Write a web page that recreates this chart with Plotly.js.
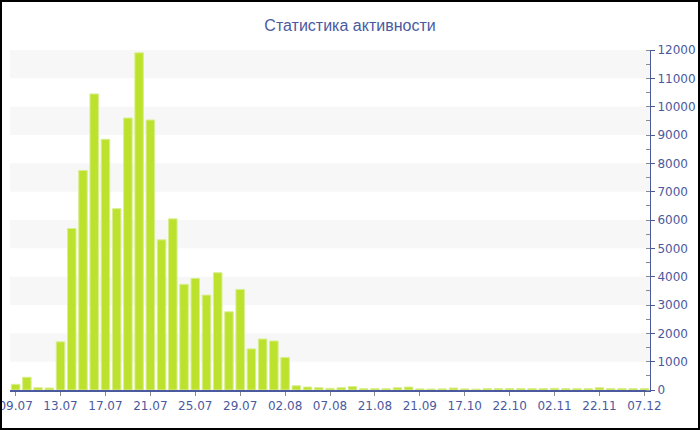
<!DOCTYPE html>
<html>
<head>
<meta charset="utf-8">
<script src="https://cdn.plot.ly/plotly-3.0.1.min.js"></script>
<style>
html,body{margin:0;padding:0;background:#fff;}
#wrap{position:relative;width:700px;height:430px;}
#chart{position:absolute;left:0;top:0;width:700px;height:430px;}
#frame{position:absolute;left:0;top:0;width:700px;height:430px;box-sizing:border-box;border:2px solid #000;pointer-events:none;}
</style>
</head>
<body>
<div id="wrap"><div id="chart"></div><div id="frame"></div></div>
<script>
const titleText = "Статистика активности";
const dates = [
  "09.07","10.07","11.07","12.07","13.07","14.07","15.07","16.07",
  "17.07","18.07","19.07","20.07","21.07","22.07","23.07","24.07",
  "25.07","26.07","27.07","28.07","29.07","30.07","31.07","01.08",
  "02.08","03.08","04.08","06.08","07.08","09.08","12.08","16.08",
  "21.08","28.08","05.09","14.09","21.09","29.09","06.10","12.10",
  "17.10","18.10","19.10","21.10","22.10","25.10","28.10","31.10",
  "02.11","07.11","12.11","17.11","22.11","26.11","30.11","04.12",
  "07.12"
];
const activity = [
  200, 450, 80, 70, 1700, 5700, 7750, 10450,
  8850, 6400, 9600, 11900, 9530, 5300, 6040, 3730,
  3940, 3350, 4140, 2760, 3550, 1450, 1800, 1730,
  1150, 150, 105, 80, 60, 80, 120, 50,
  50, 45, 80, 105, 40, 35, 40, 70,
  40, 30, 50, 50, 50, 50, 50, 50,
  60, 50, 50, 50, 80, 50, 50, 50,
  50
];
const tickLabels = ["09.07","13.07","17.07","21.07","25.07","29.07","02.08","07.08","21.08","21.09","17.10","22.10","02.11","22.11","07.12"];

const textColor = "#4b5a9e";
const bands = [];
for (let y = 1000; y < 12000; y += 2000) {
  bands.push({type:"rect", xref:"paper", yref:"y", x0:0, x1:1, y0:y, y1:y+1000,
    fillcolor:"#f7f7f7", line:{width:0}, layer:"below"});
}

const trace = {
  type:"bar",
  x: dates,
  y: activity,
  marker:{color:"#bde22e", line:{color:"#d9ee90", width:1}},
  width:0.76,
  hoverinfo:"x+y"
};

const layout = {
  width:700, height:430,
  margin:{l:10, r:50, t:50, b:40},
  paper_bgcolor:"#fff", plot_bgcolor:"#fff",
  showlegend:false,
  title:{text:titleText, x:0.5, xanchor:"center", y:0.942, yanchor:"middle",
    font:{family:"Liberation Sans, Arial, sans-serif", size:16, color:textColor}},
  font:{family:"DejaVu Sans, Verdana, sans-serif", size:12, color:textColor},
  xaxis:{
    type:"category", categoryorder:"array", categoryarray:dates,
    range:[-0.5, dates.length-0.5],
    tickmode:"array", tickvals:tickLabels, ticktext:tickLabels,
    ticks:"outside", ticklen:4, tickcolor:"#8a8a8a",
    showline:true, linecolor:"#4b5a9e", linewidth:1.5,
    showgrid:false, zeroline:false,
    tickfont:{family:"DejaVu Sans, Verdana, sans-serif", size:12, color:textColor}
  },
  yaxis:{
    side:"right", range:[0,12000], dtick:1000, tick0:0, tickformat:"d",
    ticks:"outside", ticklen:4, tickcolor:"#4b5a9e",
    showline:true, linecolor:"#4b5a9e", linewidth:1,
    showgrid:false, zeroline:false,
    minor:{ticks:"inside", ticklen:4, dtick:500, tickcolor:"#8a8a8a", showgrid:false},
    tickfont:{family:"DejaVu Sans, Verdana, sans-serif", size:12, color:textColor}
  },
  shapes:bands,
  bargap:0.24
};

Plotly.newPlot("chart", [trace], layout, {displayModeBar:false, staticPlot:true});
</script>
</body>
</html>
